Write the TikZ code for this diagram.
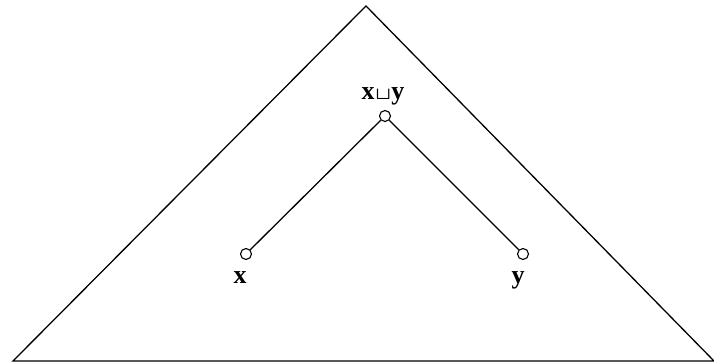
\documentclass[tikz,border=0pt]{standalone}
\usepackage{amsmath}
\usepackage{fontspec}
\setmainfont{Liberation Serif}
\begin{document}
\begin{tikzpicture}[x=1pt,y=1pt,
  edge/.style={line width=1.3pt},
  vert/.style={circle,draw,line width=1.1pt,fill=white,minimum size=11pt,inner sep=0pt},
  lab/.style={font=\fontsize{26}{28}\selectfont\bfseries,inner sep=0pt}]
\useasboundingbox (0,0) rectangle (714,363);
\coordinate (apex) at (366,357);
\coordinate (bl) at (13,2);
\coordinate (br) at (714,2);
\draw[edge,line join=miter] (bl) -- (apex) -- (br) -- cycle;
\node[vert] (t) at (385,247) {};
\node[vert] (a) at (246,109) {};
\node[vert] (b) at (523,109) {};
\draw[edge] (t) -- (a);
\draw[edge] (t) -- (b);
\node[lab] (lt) at (383,267) {x\kern1pt\scalebox{0.8}[0.7]{$\boldsymbol{\sqcup}$}\kern0.5pt y};
\node[lab] (la) at (240,85) {x};
\node[lab] (lb) at (518,83) {y};
\end{tikzpicture}
\end{document}
